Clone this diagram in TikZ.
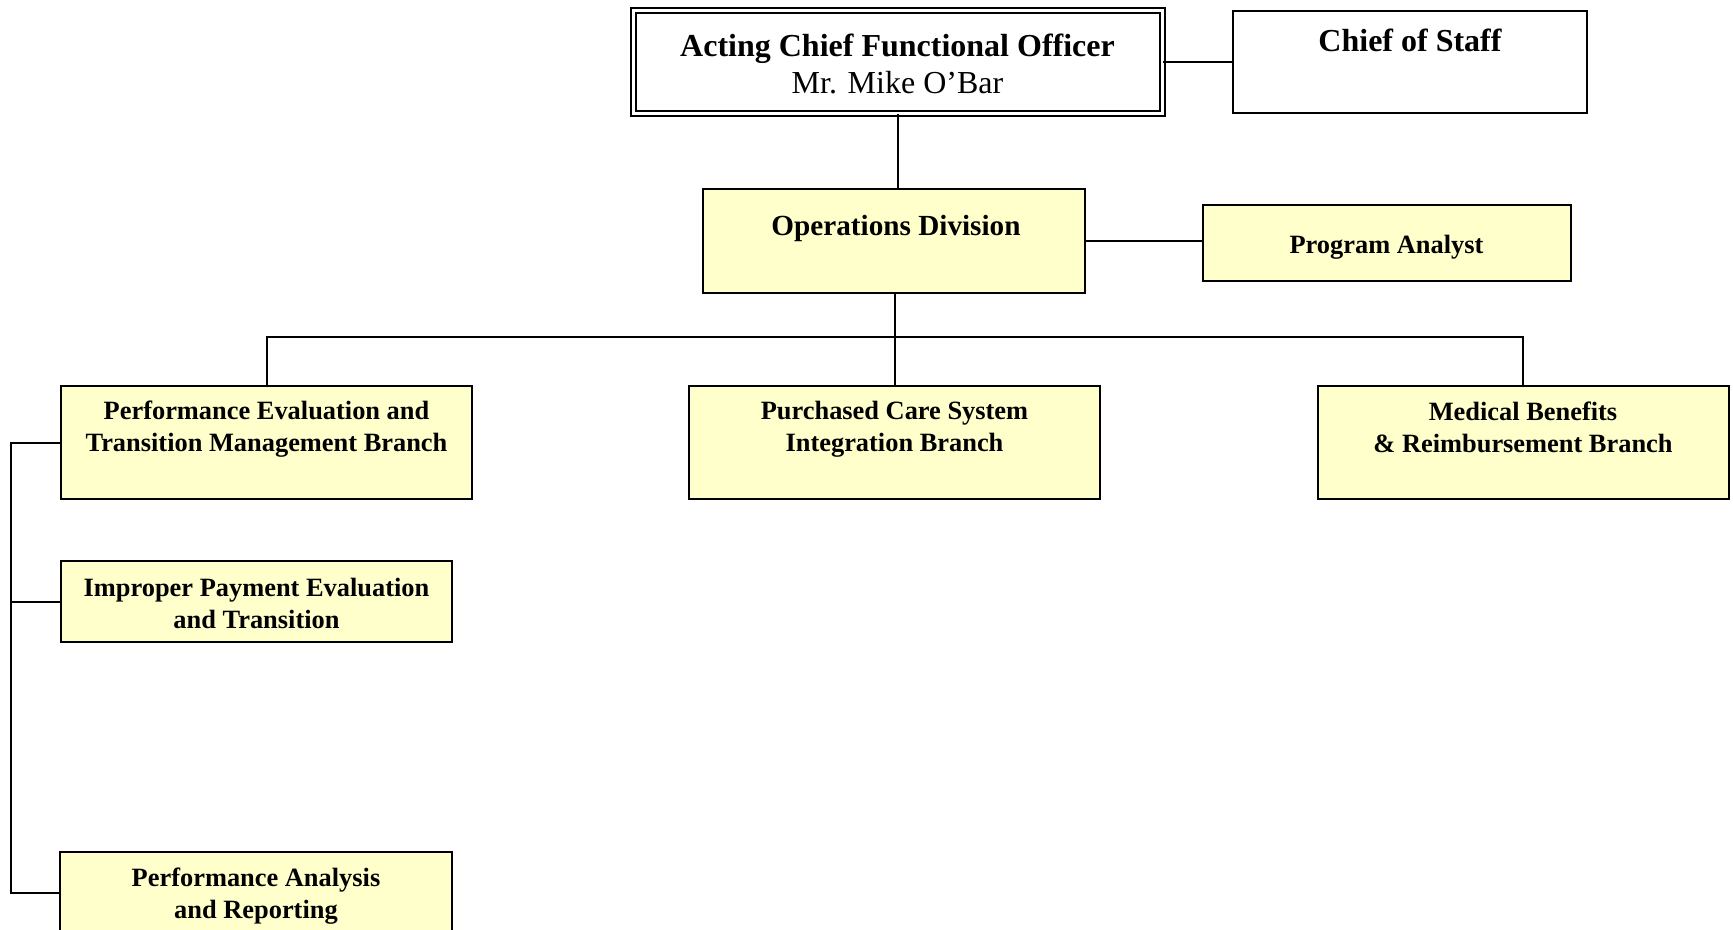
\documentclass[tikz,border=0pt]{standalone}
\usepackage{fontspec}
\setmainfont{Liberation Serif}
\usetikzlibrary{calc}
\definecolor{paleyellow}{RGB}{255,255,204}
\tikzset{
	box/.style={draw, line width=1pt, rectangle, inner sep=0pt, align=center},
	unit/.style={box, fill=paleyellow},
	wire/.style={line width=1pt},
	headfont/.style={font=\fontsize{16}{18.8}\selectfont\bfseries},
	unitfont/.style={font=\fontsize{13.2}{16}\selectfont\bfseries, align=center}
}

\begin{document}
\begin{tikzpicture}[x=0.5pt, y=-0.5pt]
			%%%%% START %%%%%
			\useasboundingbox (0, 0) rectangle (1733, 930);
			
			\node[box, double, double distance=1.5pt, minimum width=264.5pt, minimum height=51.5pt] (acfo) at (897.5, 62) {};
			\node[font=\fontsize{16}{18.8}\selectfont, align=center] (acfotxt) at (897.5, 64) {\textbf{Acting Chief Functional Officer}\\Mr. Mike O'Bar};
			
			\node[box, minimum width=177pt, minimum height=51pt] (cos) at (1410, 62) {};
			\node[headfont] (costxt) at (1410, 40) {Chief of Staff};
			
			\node[unit, minimum width=191pt, minimum height=52pt] (ops) at (893.5, 241) {};
			\node[font=\fontsize{14.6}{17}\selectfont\bfseries] (opstxt) at (896, 228) {Operations Division};
			
			\node[unit, minimum width=184pt, minimum height=38pt] (pa) at (1386.5, 243) {};
			\node[unitfont] (patxt) at (1386.5, 247) {Program Analyst};
			
			\node[unit, minimum width=205.5pt, minimum height=56.5pt] (petm) at (266.5, 442.5) {};
			\node[unitfont] (petmtxt) at (266.5, 429.5) {Performance Evaluation and\\Transition Management Branch};
			
			\node[unit, minimum width=205.5pt, minimum height=56.5pt] (pcsi) at (894.5, 442.5) {};
			\node[unitfont] (pcsitxt) at (894.5, 429.5) {Purchased Care System\\Integration Branch};
			
			\node[unit, minimum width=205.5pt, minimum height=56.5pt] (mbr) at (1523, 442.5) {};
			\node[unitfont] (mbrtxt) at (1523, 427) {Medical Benefits\\\& Reimbursement Branch};
			
			\node[unit, minimum width=195.5pt, minimum height=40.5pt] (ipet) at (256.5, 601.5) {};
			\node[unitfont] (ipettxt) at (256.5, 603) {Improper Payment Evaluation\\and Transition};
			
			\node[unit, minimum width=196pt, minimum height=41pt] (par) at (256, 892.5) {};
			\node[unitfont] (partxt) at (256, 896.5) {Performance Analysis\\and Reporting};
			
			\coordinate (bus) at (0, 337);
			\coordinate (lbus) at (11, 0);
			
			\draw[wire] (acfo.east) -- (cos.west);
			\draw[wire] (acfo.south) -- (acfo.south |- ops.north);
			\draw[wire] (ops.east) -- (ops.east -| pa.west);
			\draw[wire] (pcsi.north |- ops.south) -- (pcsi.north);
			\draw[wire] (petm.north) -- (petm.north |- bus) -- (mbr.north |- bus) -- (mbr.north);
			\draw[wire] (petm.west) -- (petm.west -| lbus) -- (par.west -| lbus) -- (par.west);
			\draw[wire] (ipet.west -| lbus) -- (ipet.west);
			
			%%%%% END %%%%%
		\end{tikzpicture}
\end{document}
